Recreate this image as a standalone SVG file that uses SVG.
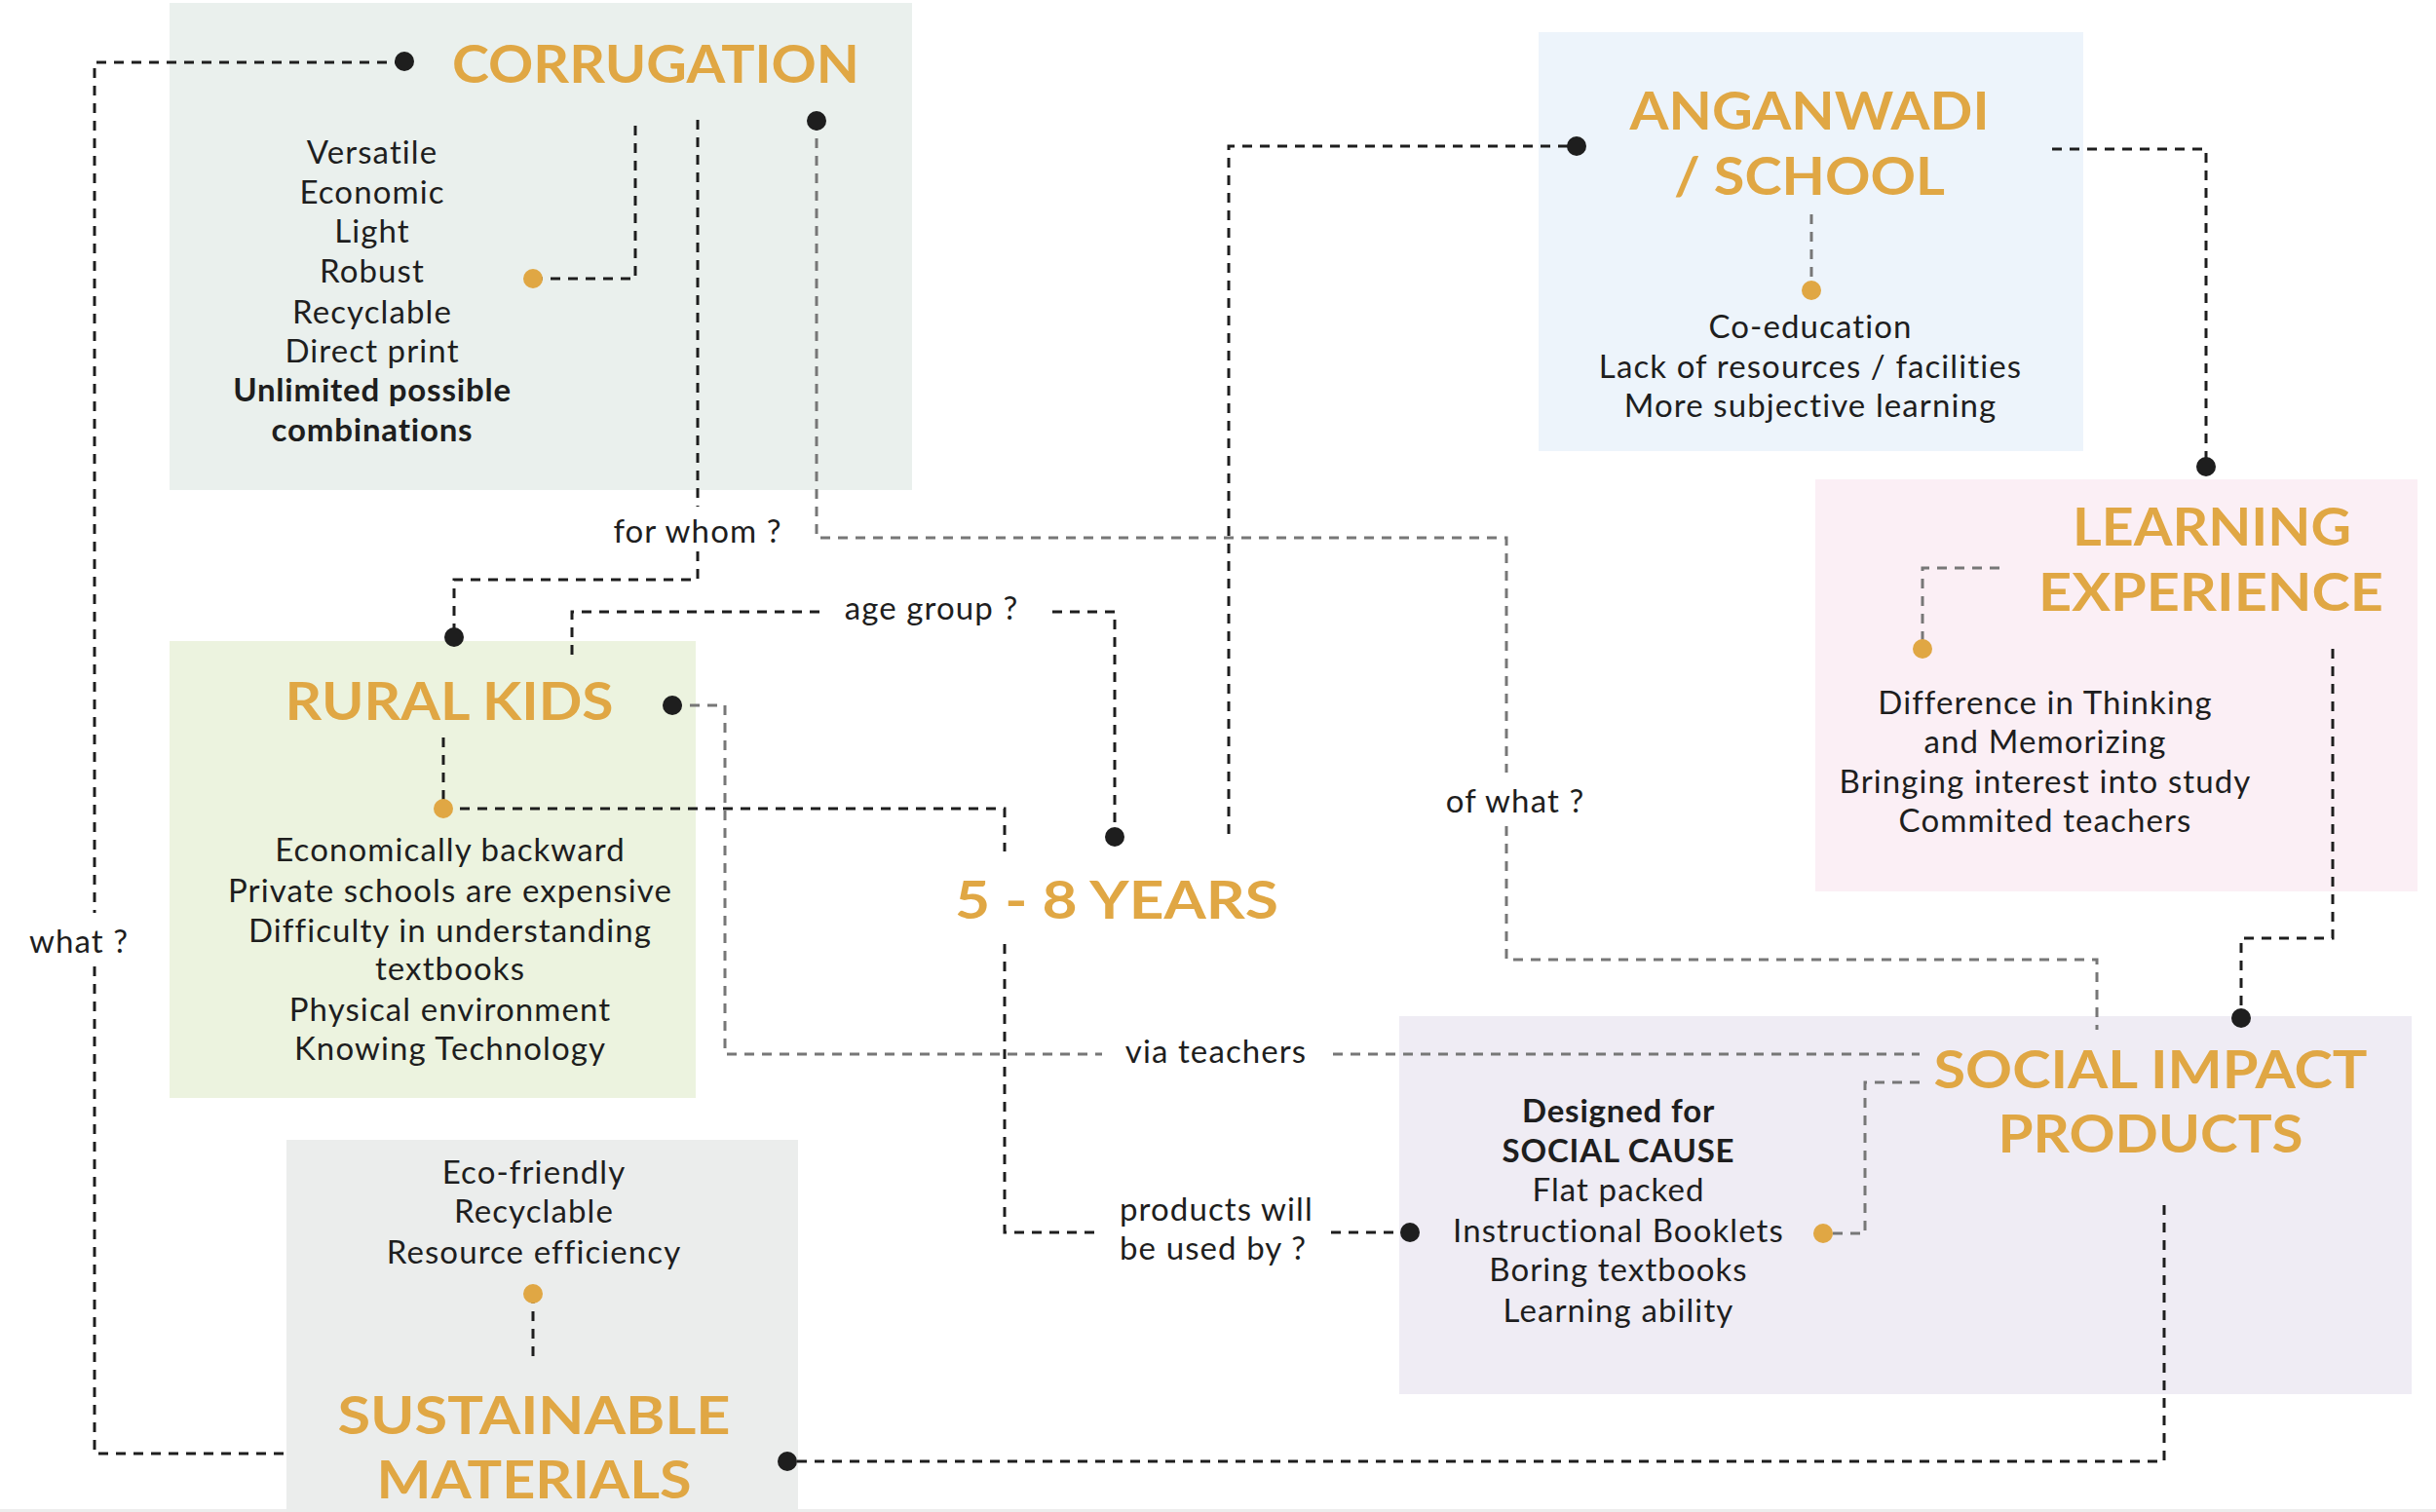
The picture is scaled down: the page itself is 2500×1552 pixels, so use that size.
<svg xmlns="http://www.w3.org/2000/svg" width="2500" height="1552" viewBox="0 0 2500 1552">
<style>
  .title { font-family: Lato, "Open Sans", sans-serif; font-weight: 700; font-size: 53px; fill: #E0A744; text-anchor: middle; }
  .body { font-family: Lato, "Open Sans", sans-serif; font-weight: 400; font-size: 33px; letter-spacing: 1.1px; fill: #1E1E1E; text-anchor: middle; }
  .bold { font-weight: 700; letter-spacing: 0.8px; }
  .lbl { font-family: Lato, "Open Sans", sans-serif; font-weight: 400; font-size: 33px; letter-spacing: 1.1px; fill: #1E1E1E; }
  .blk { fill: none; stroke: #1E1E1E; stroke-width: 3; stroke-dasharray: 10 8; }
  .gry { fill: none; stroke: #777777; stroke-width: 3; stroke-dasharray: 10 8; }
  .dot { fill: #1E1E1E; }
  .odot { fill: #E0A744; }
</style>
<rect x="0" y="0" width="2500" height="1552" fill="#FFFFFF"/>
<rect x="0" y="1549" width="2500" height="3" fill="#EDEDED"/>

<g id="corrugation">
  <rect x="174" y="3" width="762" height="500" fill="#EAF0ED"/>
  <text class="title" x="673" y="85" textLength="418" lengthAdjust="spacingAndGlyphs">CORRUGATION</text>
  <text class="body" x="382" y="168">Versatile</text>
  <text class="body" x="382" y="209">Economic</text>
  <text class="body" x="382" y="249">Light</text>
  <text class="body" x="382" y="290">Robust</text>
  <text class="body" x="382" y="332">Recyclable</text>
  <text class="body" x="382" y="372">Direct print</text>
  <text class="body bold" x="382" y="412">Unlimited possible</text>
  <text class="body bold" x="382" y="453">combinations</text>
</g>

<g id="rural-kids">
  <rect x="174" y="658" width="540" height="469" fill="#ECF3DF"/>
  <text class="title" x="461" y="739" textLength="337" lengthAdjust="spacingAndGlyphs">RURAL KIDS</text>
  <text class="body" x="462" y="884">Economically backward</text>
  <text class="body" x="462" y="926">Private schools are expensive</text>
  <text class="body" x="462" y="967">Difficulty in understanding</text>
  <text class="body" x="462" y="1006">textbooks</text>
  <text class="body" x="462" y="1048">Physical environment</text>
  <text class="body" x="462" y="1088">Knowing Technology</text>
</g>

<g id="age-5-8">
  <text class="title" x="1146" y="943" textLength="332" lengthAdjust="spacingAndGlyphs">5 - 8 YEARS</text>
</g>

<g id="anganwadi-school">
  <rect x="1579" y="33" width="559" height="430" fill="#EDF4FB"/>
  <text class="title" x="1857" y="133" textLength="369" lengthAdjust="spacingAndGlyphs">ANGANWADI</text>
  <text class="title" x="1857" y="200" textLength="278" lengthAdjust="spacingAndGlyphs">/ SCHOOL</text>
  <text class="body" x="1858" y="347">Co-education</text>
  <text class="body" x="1858" y="388">Lack of resources / facilities</text>
  <text class="body" x="1858" y="428">More subjective learning</text>
</g>

<g id="learning-experience">
  <rect x="1863" y="492" width="618" height="423" fill="#FBEFF5"/>
  <text class="title" x="2270" y="560" textLength="286" lengthAdjust="spacingAndGlyphs">LEARNING</text>
  <text class="title" x="2269" y="627" textLength="354" lengthAdjust="spacingAndGlyphs">EXPERIENCE</text>
  <text class="body" x="2099" y="733">Difference in Thinking</text>
  <text class="body" x="2099" y="773">and Memorizing</text>
  <text class="body" x="2099" y="814">Bringing interest into study</text>
  <text class="body" x="2099" y="854">Commited teachers</text>
</g>

<g id="social-impact-products">
  <rect x="1436" y="1043" width="1039" height="388" fill="#EFECF4"/>
  <text class="title" x="2207" y="1117" textLength="445" lengthAdjust="spacingAndGlyphs">SOCIAL IMPACT</text>
  <text class="title" x="2207" y="1183" textLength="313" lengthAdjust="spacingAndGlyphs">PRODUCTS</text>
  <text class="body bold" x="1661" y="1152">Designed for</text>
  <text class="body bold" x="1661" y="1193">SOCIAL CAUSE</text>
  <text class="body" x="1661" y="1233">Flat packed</text>
  <text class="body" x="1661" y="1275">Instructional Booklets</text>
  <text class="body" x="1661" y="1315">Boring textbooks</text>
  <text class="body" x="1661" y="1357">Learning ability</text>
</g>

<g id="sustainable-materials">
  <rect x="294" y="1170" width="525" height="382" fill="#EBEDEC"/>
  <text class="body" x="548" y="1215">Eco-friendly</text>
  <text class="body" x="548" y="1255">Recyclable</text>
  <text class="body" x="548" y="1297">Resource efficiency</text>
  <text class="title" x="548" y="1472" textLength="403" lengthAdjust="spacingAndGlyphs">SUSTAINABLE</text>
  <text class="title" x="548" y="1538" textLength="323" lengthAdjust="spacingAndGlyphs">MATERIALS</text>
</g>

<g id="connectors">
  <!-- corrugation -> sustainable materials : what ? -->
  <path class="blk" d="M415,64 H97 V937 M97,992 V1492 H292"/>
  <text class="lbl" x="30" y="978">what ?</text>
  <circle class="dot" cx="415" cy="63" r="10"/>
  <!-- corrugation properties -->
  <path class="blk" d="M547,286 H652 V125"/>
  <circle class="odot" cx="547" cy="286" r="10"/>
  <!-- corrugation -> rural kids : for whom ? -->
  <path class="blk" d="M716,123 V520 M716,566 V595 H466 V654"/>
  <text class="lbl" x="716" y="557" text-anchor="middle">for whom ?</text>
  <circle class="dot" cx="466" cy="654" r="10"/>
  <!-- corrugation -> social impact : of what ? -->
  <path class="gry" d="M838,124 V552 H1546 V793 M1546,848 V985 H2152 V1057"/>
  <text class="lbl" x="1555" y="834" text-anchor="middle">of what ?</text>
  <circle class="dot" cx="838" cy="124" r="10"/>
  <!-- 5-8 years -> anganwadi -->
  <path class="blk" d="M1261,856 V150 H1618"/>
  <circle class="dot" cx="1618" cy="150" r="10"/>
  <!-- rural kids -> 5-8 years : age group ? -->
  <path class="blk" d="M587,672 V628 H842 M1080,628 H1144 V859"/>
  <text class="lbl" x="956" y="636" text-anchor="middle">age group ?</text>
  <circle class="dot" cx="1144" cy="859" r="10"/>
  <!-- rural kids -> social impact : via teachers -->
  <path class="gry" d="M690,724 H744 V1082 H1131 M1368,1082 H1970"/>
  <text class="lbl" x="1248" y="1091" text-anchor="middle">via teachers</text>
  <circle class="dot" cx="690" cy="724" r="10"/>
  <!-- rural kids -> social impact : products will be used by ? -->
  <path class="blk" d="M455,757 V830 H1031 V874 M1031,969 V1265 H1131 M1366,1265 H1447"/>
  <text class="lbl" x="1149" y="1253">products will</text>
  <text class="lbl" x="1149" y="1293">be used by ?</text>
  <circle class="odot" cx="455" cy="830" r="10"/>
  <circle class="dot" cx="1447" cy="1265" r="10"/>
  <!-- anganwadi properties -->
  <path class="gry" d="M1859,220 V298"/>
  <circle class="odot" cx="1859" cy="298" r="10"/>
  <!-- anganwadi -> learning experience -->
  <path class="blk" d="M2106,153 H2264 V479"/>
  <circle class="dot" cx="2264" cy="479" r="10"/>
  <!-- learning properties -->
  <path class="gry" d="M2052,583 H1973 V666"/>
  <circle class="odot" cx="1973" cy="666" r="10"/>
  <!-- learning -> social impact -->
  <path class="blk" d="M2394,666 V963 H2300 V1045"/>
  <circle class="dot" cx="2300" cy="1045" r="10"/>
  <!-- social impact properties -->
  <path class="gry" d="M1970,1111 H1914 V1266 H1871"/>
  <circle class="odot" cx="1871" cy="1266" r="10"/>
  <!-- social impact -> sustainable materials -->
  <path class="blk" d="M2221,1237 V1500 H808"/>
  <circle class="dot" cx="808" cy="1500" r="10"/>
  <!-- sustainable properties -->
  <path class="blk" d="M547,1328 V1400"/>
  <circle class="odot" cx="547" cy="1328" r="10"/>
</g>
</svg>
